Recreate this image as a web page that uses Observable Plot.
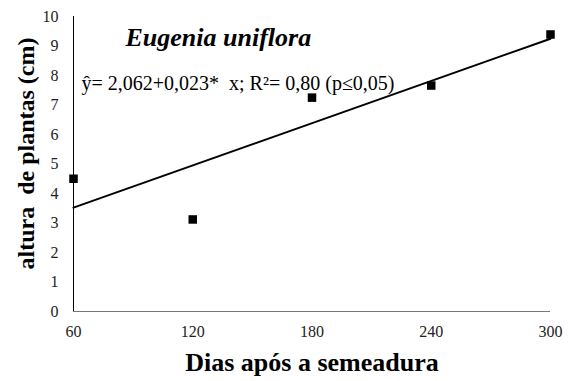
<!DOCTYPE html>
<html>
<head>
<meta charset="utf-8">
<script src="https://cdn.jsdelivr.net/npm/d3@7"></script>
<script src="https://cdn.jsdelivr.net/npm/@observablehq/plot@0.6"></script>
<style>
  body { margin: 0; background: #fff; }
</style>
</head>
<body>
<div id="chart"></div>
<script>
const dias = [60, 120, 180, 240, 300];
const altura = [4.5, 3.12, 7.25, 7.66, 9.39];
const yTicks = [0, 1, 2, 3, 4, 5, 6, 7, 8, 9, 10];
const titulo = "Eugenia uniflora";
const equacao = "ŷ= 2,062+0,023*  x; R²= 0,80 (p≤0,05)";
const xTitulo = "Dias após a semeadura";
const yTitulo = "altura  de plantas (cm)";

const data = dias.map((d, i) => ({dias: d, altura: altura[i]}));
const serif = "Liberation Serif";

const chart = Plot.plot({
  width: 569,
  height: 381,
  marginLeft: 73,
  marginRight: 19,
  marginTop: 16,
  marginBottom: 70,
  style: {fontFamily: serif, fontSize: "16px", color: "#222", background: "#fff"},
  x: {domain: [60, 300]},
  y: {domain: [0, 10]},
  marks: [
    Plot.axisX({ticks: dias, tickSize: 0, tickPadding: 14.5, label: null, fontSize: 16}),
    Plot.axisY({ticks: yTicks, tickSize: 0, tickPadding: 15, label: null, fontSize: 16}),
    Plot.ruleY([0], {stroke: "#777", strokeWidth: 1.2}),
    Plot.ruleX([60], {stroke: "#000", strokeWidth: 1}),
    Plot.linearRegressionY(data, {x: "dias", y: "altura", ci: 0, stroke: "#000", strokeWidth: 2}),
    Plot.dot(data, {x: "dias", y: "altura", symbol: "square", r: 4.8, fill: "#000", stroke: "none"}),
    Plot.text([titulo], {frameAnchor: "top-left", textAnchor: "start", lineAnchor: "middle", dx: 52, dy: 20.7, fontSize: 26, fontWeight: "bold", fontStyle: "italic", fill: "#000"}),
    Plot.text([equacao], {frameAnchor: "top-left", textAnchor: "start", lineAnchor: "middle", dx: 8, dy: 66.6, fontSize: 20, fill: "#000"}),
    Plot.text([xTitulo], {frameAnchor: "bottom", textAnchor: "middle", lineAnchor: "middle", dy: 50.7, fontSize: 26, fontWeight: "bold", fill: "#000"}),
    Plot.text([yTitulo], {frameAnchor: "left", textAnchor: "middle", lineAnchor: "middle", dx: -47.5, dy: -10.5, rotate: -90, fontSize: 24, fontWeight: "bold", fill: "#000"})
  ]
});
document.getElementById("chart").appendChild(chart);
</script>
</body>
</html>
